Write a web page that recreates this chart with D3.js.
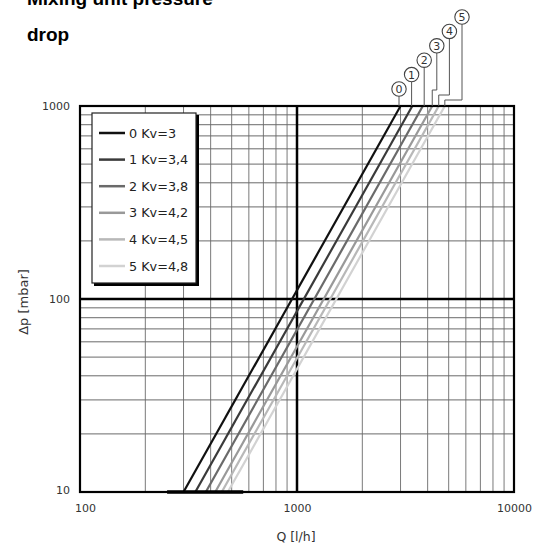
<!DOCTYPE html>
<html>
<head>
<meta charset="utf-8">
<script src="https://cdn.jsdelivr.net/npm/d3@7"></script>
<style>
  body { margin: 0; background: #fff; }
  svg text { font-family: "DejaVu Sans", sans-serif; }
</style>
</head>
<body>
<svg id="chart" width="547" height="548"></svg>
<script>
// data
var series = ["0", "1", "2", "3", "4", "5"];
var kvLabels = ["Kv=3", "Kv=3,4", "Kv=3,8", "Kv=4,2", "Kv=4,5", "Kv=4,8"];
var qAt10 = [300, 340, 380, 420, 450, 480];       // l/h at 10 mbar
var qAt1000 = [3000, 3400, 3800, 4200, 4500, 4800]; // l/h at 1000 mbar
var colors = ["#111", "#3a3a3a", "#6a6a6a", "#999", "#b8b8b8", "#d2d2d2"];
var xTicks = [100, 1000, 10000];
var yTicks = [10, 100, 1000];
var baseBand = [252, 565]; // thick stretch on the Q axis

var svg = d3.select("#chart");
var pLeft = 80, pRight = 514, pTop = 106, pBottom = 492;

var x = d3.scaleLog().domain([100, 10000]).range([pLeft, pRight]);
var y = d3.scaleLog().domain([10, 1000]).range([pBottom, pTop]);

var font = "DejaVu Sans, sans-serif";

// title (cut at top like the source)
svg.append("text").attr("x", 27).attr("y", 5)
    .style("font-family", "Liberation Sans, Arial, sans-serif")
    .attr("font-weight", "bold").attr("font-size", 19)
    .text("Mixing unit pressure");
svg.append("text").attr("x", 27).attr("y", 41)
    .style("font-family", "Liberation Sans, Arial, sans-serif")
    .attr("font-weight", "bold").attr("font-size", 19)
    .text("drop");

// minor grid
var minorX = [];
[100, 1000].forEach(function (d) { for (var k = 2; k < 10; k++) minorX.push(d * k); });
var minorY = [];
[10, 100].forEach(function (d) { for (var k = 2; k < 10; k++) minorY.push(d * k); });

var grid = svg.append("g");
grid.selectAll(".vx").data(minorX).enter().append("line")
    .attr("x1", d => x(d)).attr("x2", d => x(d))
    .attr("y1", pTop).attr("y2", pBottom)
    .attr("stroke", "#7a7a7a").attr("stroke-width", 1);
grid.selectAll(".hy").data(minorY).enter().append("line")
    .attr("y1", d => y(d)).attr("y2", d => y(d))
    .attr("x1", pLeft).attr("x2", pRight)
    .attr("stroke", "#6a6a6a").attr("stroke-width", 1);

// main grid lines
grid.append("line").attr("x1", x(1000)).attr("x2", x(1000)).attr("y1", pTop).attr("y2", pBottom)
    .attr("stroke", "#000").attr("stroke-width", 2.5);
grid.append("line").attr("y1", y(100)).attr("y2", y(100)).attr("x1", pLeft).attr("x2", pRight)
    .attr("stroke", "#000").attr("stroke-width", 2.5);

// curves (drawn light first so black is on top)
var curves = svg.append("g");
for (var i = series.length - 1; i >= 0; i--) {
    curves.append("line")
        .attr("x1", x(qAt10[i])).attr("y1", y(10))
        .attr("x2", x(qAt1000[i])).attr("y2", y(1000))
        .attr("stroke", colors[i]).attr("stroke-width", 2.2);
}

// frame
svg.append("rect").attr("x", pLeft).attr("y", pTop)
    .attr("width", pRight - pLeft).attr("height", pBottom - pTop)
    .attr("fill", "none").attr("stroke", "#000").attr("stroke-width", 2.2);
svg.append("line").attr("x1", x(baseBand[0])).attr("x2", x(baseBand[1]))
    .attr("y1", pBottom).attr("y2", pBottom).attr("stroke", "#000").attr("stroke-width", 3.5);

// axes labels
var xAxis = d3.axisBottom(x).tickValues(xTicks).tickFormat(d3.format("d")).tickSize(0).tickPadding(12);
var gx = svg.append("g").attr("transform", `translate(0,${pBottom})`).call(xAxis);
gx.select(".domain").remove();
gx.selectAll("text").attr("font-size", 11).attr("fill", "#333").style("font-family", font);
gx.selectAll(".tick").filter(d => d === 100).select("text").attr("dx", 5);

var yAxis = d3.axisLeft(y).tickValues(yTicks).tickFormat(d3.format("d")).tickSize(0).tickPadding(10);
var gy = svg.append("g").attr("transform", `translate(${pLeft},0)`).call(yAxis);
gy.select(".domain").remove();
gy.selectAll("text").attr("font-size", 11).attr("fill", "#333").style("font-family", font);
gy.selectAll(".tick").filter(d => d === 10).select("text").attr("dy", "0.1em");

svg.append("text").attr("x", 296).attr("y", 541).attr("text-anchor", "middle")
    .attr("font-size", 12.5).attr("fill", "#333").style("font-family", font)
    .text("Q [l/h]");
svg.append("text").attr("transform", "translate(28,302) rotate(-90)").attr("text-anchor", "middle")
    .attr("font-size", 13).attr("fill", "#333").style("font-family", font)
    .text("Δp [mbar]");

// legend box with shadow
var lg = svg.append("g");
lg.append("rect").attr("x", 94).attr("y", 115).attr("width", 105).attr("height", 171).attr("fill", "#000");
lg.append("rect").attr("x", 92).attr("y", 113).attr("width", 104).attr("height", 170)
    .attr("fill", "#fff").attr("stroke", "#222").attr("stroke-width", 1.2);
var rows = lg.selectAll(".row").data(series).enter().append("g")
    .attr("transform", (d, i) => `translate(0,${133 + i * 26.6})`);
rows.append("line").attr("x1", 99).attr("x2", 125).attr("y1", 0).attr("y2", 0)
    .attr("stroke", (d, i) => colors[i]).attr("stroke-width", 2.5);
rows.append("text").attr("x", 129).attr("y", 4.5).attr("font-size", 12.8).attr("fill", "#222")
    .style("font-family", font)
    .text((d, i) => d + " " + kvLabels[i]);

// circled curve numbers with leader lines
var tags = svg.append("g");
series.forEach(function (s, i) {
    var cx = 399 + i * 12.6, cy = 89 - i * 14.4, r = 7.2;
    var xe = x(qAt1000[i]);
    var path;
    if (Math.abs(cx - xe) < 3) {
        path = `M${cx},${cy + r}V${pTop}`;
    } else {
        var yk = 90 + (i - 3) * 5;
        path = `M${cx},${cy + r}V${yk}H${xe}V${pTop}`;
    }
    tags.append("path").attr("d", path).attr("fill", "none").attr("stroke", "#555").attr("stroke-width", 1);
    tags.append("circle").attr("cx", cx).attr("cy", cy).attr("r", r)
        .attr("fill", "#fff").attr("stroke", "#444").attr("stroke-width", 1.1);
    tags.append("text").attr("x", cx).attr("y", cy + 4).attr("text-anchor", "middle")
        .attr("font-size", 11).attr("fill", "#333").style("font-family", font)
        .text(s);
});
</script>
</body>
</html>
